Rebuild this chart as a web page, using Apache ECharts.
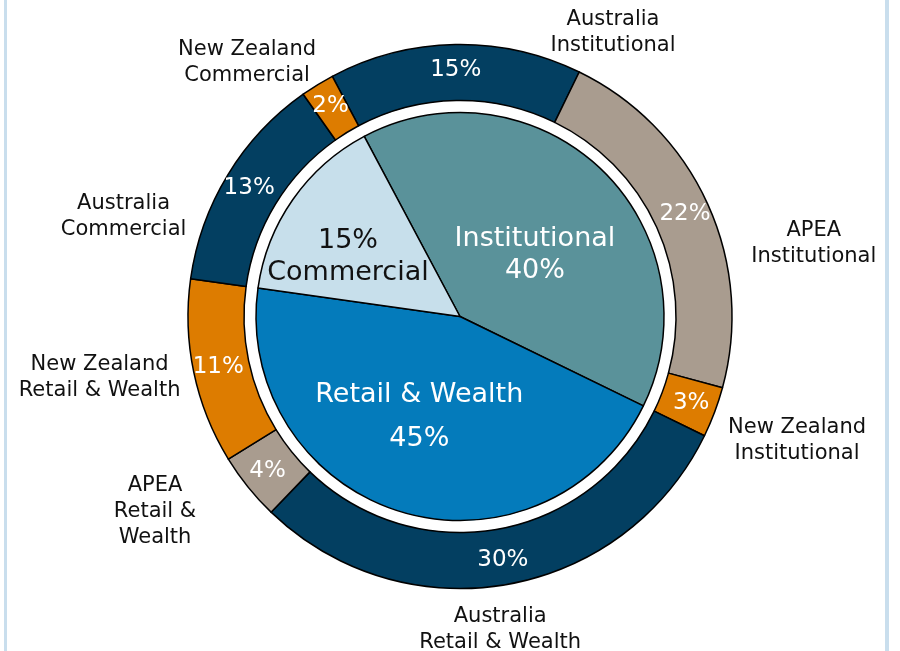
<!DOCTYPE html>
<html>
<head>
<meta charset="utf-8">
<script src="https://cdn.jsdelivr.net/npm/echarts@6/dist/echarts.min.js"></script>
<style>
html, body { margin: 0; padding: 0; background: #fff; }
#main { width: 900px; height: 651px; }
</style>
</head>
<body>
<div id="main"></div>
<script>
// inner pie: divisions (%)
const divisions = ['Institutional', 'Retail & Wealth', 'Commercial'];
const divisionShare = [40, 45, 15];

// outer ring: division split by geography (%)
const segments = [
  'Australia\nInstitutional', 'APEA\nInstitutional', 'New Zealand\nInstitutional',
  'Australia\nRetail & Wealth', 'APEA\nRetail &\nWealth', 'New Zealand\nRetail & Wealth',
  'Australia\nCommercial', 'New Zealand\nCommercial'
];
const segmentRegion = ['Australia', 'APEA', 'New Zealand', 'Australia', 'APEA', 'New Zealand', 'Australia', 'New Zealand'];
const segmentShare = [15, 22, 3, 30, 4, 11, 13, 2];

// colours
const divisionColor = { 'Institutional': '#5a929a', 'Retail & Wealth': '#047bbb', 'Commercial': '#c7dfeb' };
const regionColor = { 'Australia': '#033f61', 'APEA': '#a99c8f', 'New Zealand': '#dd7c00' };

const FONT = 'DejaVu Sans';
const cx = 460, cy = 316.5;
// where the segment names sit: [angle deg, distance from centre px]
const nameSpots = [[62, 326], [12.2, 362], [-19.7, 358], [-82.6, 312], [-147.9, 360], [-170.9, 365], [162.9, 352], [129.6, 334]];

var myChart = echarts.init(document.getElementById('main'));

const innerData = divisions.map((d, i) => {
  const item = { name: d, value: divisionShare[i], itemStyle: { color: divisionColor[d] } };
  if (d === 'Institutional') {
    item.label = { offset: [2, 14] };
  }
  if (d === 'Commercial') {
    item.label = { color: '#111', formatter: '{c}%\n{b}', offset: [-26, 1] };
  }
  if (d === 'Retail & Wealth') {
    item.label = { lineHeight: 44, offset: [-10, 0] };
  }
  return item;
});

const outerData = segments.map((s, i) => ({
  name: s, value: segmentShare[i], itemStyle: { color: regionColor[segmentRegion[i]] }
}));

const option = {
  backgroundColor: '#fff',
  animation: false,
  graphic: [
    { type: 'rect', shape: { x: 4, y: 0, width: 3, height: 651 }, style: { fill: '#c9deed' } },
    { type: 'rect', shape: { x: 885, y: 0, width: 4, height: 651 }, style: { fill: '#c9deed' } }
  ],
  series: [
    {
      type: 'pie',
      center: [cx, cy],
      radius: [0, 204],
      startAngle: 118,
      clockwise: true,
      silent: true,
      itemStyle: { borderColor: '#000', borderWidth: 1.5 },
      label: {
        position: 'inside',
        formatter: '{b}\n{c}%',
        color: '#fff',
        fontFamily: FONT,
        fontSize: 27,
        lineHeight: 32
      },
      labelLine: { show: false },
      data: innerData
    },
    {
      type: 'pie',
      center: [cx, cy],
      radius: [216, 272],
      startAngle: 118,
      clockwise: true,
      silent: true,
      itemStyle: { borderColor: '#000', borderWidth: 1.5 },
      label: {
        position: 'inside',
        formatter: '{c}%',
        color: '#fff',
        fontFamily: FONT,
        fontSize: 23
      },
      labelLine: { show: false },
      data: outerData
    },
    {
      // same ring, only used to carry the segment names
      type: 'pie',
      center: [cx, cy],
      radius: [216, 272],
      startAngle: 118,
      silent: true,
      avoidLabelOverlap: false,
      itemStyle: { color: 'rgba(0,0,0,0)', borderWidth: 0 },
      label: {
        position: 'outside',
        formatter: '{b}',
        color: '#111',
        fontFamily: FONT,
        fontSize: 21,
        lineHeight: 26
      },
      labelLine: { show: false },
      labelLayout: function (p) {
        const s = nameSpots[p.dataIndex];
        const a = s[0] * Math.PI / 180;
        return { x: cx + s[1] * Math.cos(a), y: cy - s[1] * Math.sin(a) + 3.5, align: 'center', verticalAlign: 'middle' };
      },
      data: outerData.map(d => ({ name: d.name, value: d.value }))
    }
  ]
};

myChart.setOption(option);
</script>
</body>
</html>
